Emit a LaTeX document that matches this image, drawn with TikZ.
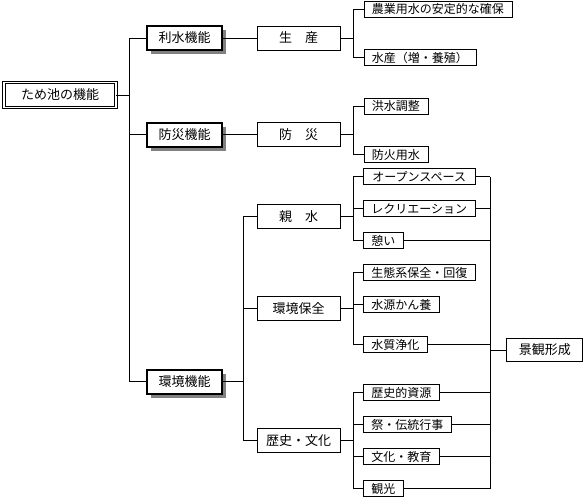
\documentclass[tikz,border=0pt]{standalone}
\usepackage{fontspec}
\setmainfont{Noto Sans CJK JP}
\usetikzlibrary{shadows}
\tikzset{
  box/.style={draw, line width=0.9pt, inner sep=0pt, fill=white, font=\fontsize{13}{15}\selectfont},
  rootbox/.style={box, double, double distance=1.5pt, minimum width=112pt, minimum height=25pt},
  mainbox/.style={box, line width=2pt, minimum width=75pt, minimum height=24pt,
    drop shadow={shadow xshift=4pt, shadow yshift=-4pt, fill=gray, opacity=1}},
  midbox/.style={box, minimum width=83pt, minimum height=24pt},
  leafbox/.style={box, minimum height=16pt, anchor=west, font=\fontsize{12}{14}\selectfont},
  wire/.style={line width=0.9pt}
}
\begin{document}
\begin{tikzpicture}[x=1pt,y=-1pt]
\useasboundingbox (0,0) rectangle (588,501);
\node[rootbox] (root) at (60,95) {ため池の機能};
\node[mainbox] (risui) at (184.5,38) {利水機能};
\node[mainbox] (bousai) at (184.5,134.5) {防災機能};
\node[mainbox] (kankyo) at (184.5,381.5) {環境機能};
\node[midbox] (seisan) at (298.5,38) {生　産};
\node[midbox] (saigai) at (298.5,134.5) {防　災};
\node[midbox] (shinsui) at (298.5,216.5) {親　水};
\node[midbox] (hozen) at (298.5,308.5) {環境保全};
\node[midbox] (rekishi) at (298.5,440.5) {歴史・文化};
\node[leafbox, minimum width=148pt] (nogyo) at (363.5,9) {農業用水の安定的な確保};
\node[leafbox, minimum width=112pt] (suisan) at (363.5,57.8) {水産（増・養殖）};
\node[leafbox, minimum width=64pt] (kozui) at (363.5,106.3) {洪水調整};
\node[leafbox, minimum width=64pt] (boka) at (363.5,154.7) {防火用水};
\node[leafbox, minimum width=112pt] (open) at (362.8,176.8) {オープンスペース};
\node[leafbox, minimum width=112pt] (recre) at (362.8,208.8) {レクリエーション};
\node[leafbox, minimum width=40pt] (ikoi) at (362.8,240.8) {憩い};
\node[leafbox, minimum width=112pt] (seitai) at (362.8,272.8) {生態系保全・回復};
\node[leafbox, minimum width=76pt] (suigen) at (362.8,304.8) {水源かん養};
\node[leafbox, minimum width=64pt] (suishitsu) at (362.8,344.8) {水質浄化};
\node[leafbox, minimum width=76pt] (shigen) at (362.8,392.8) {歴史的資源};
\node[leafbox, minimum width=88pt] (matsuri) at (362.8,424.8) {祭・伝統行事};
\node[leafbox, minimum width=76pt] (kyoiku) at (362.8,456.8) {文化・教育};
\node[leafbox, minimum width=40pt] (kanko) at (362.8,488.8) {観光};
\node[box, minimum width=76pt, minimum height=23pt] (keikan) at (544.8,350) {景観形成};
\coordinate (kb) at ([xshift=-16pt]keikan.west);

\foreach \n in {risui,bousai,kankyo}
  \draw[wire] (root.east) -- ++(12.5,0) |- (\n.west);
\draw[wire] (risui.east) -- (seisan.west);
\draw[wire] (bousai.east) -- (saigai.west);
\foreach \n in {shinsui,hozen,rekishi}
  \draw[wire] (kankyo.east) -- ++(20,0) |- (\n.west);
\foreach \m/\l in {seisan/nogyo, seisan/suisan, saigai/kozui, saigai/boka,
    shinsui/open, shinsui/recre, shinsui/ikoi, hozen/seitai, hozen/suigen,
    hozen/suishitsu, rekishi/shigen, rekishi/matsuri, rekishi/kyoiku, rekishi/kanko}
  \draw[wire] (\m.east) -- ++(13,0) |- (\l.west);
\foreach \l in {open,recre,ikoi,suishitsu,shigen,matsuri,kyoiku,kanko}
  \draw[wire] (\l.east) -- (\l.east -| kb);
\draw[wire] (kb |- open.east) -- (kb |- kanko.east);
\draw[wire] (kb) -- (keikan.west);
\end{tikzpicture}
\end{document}
